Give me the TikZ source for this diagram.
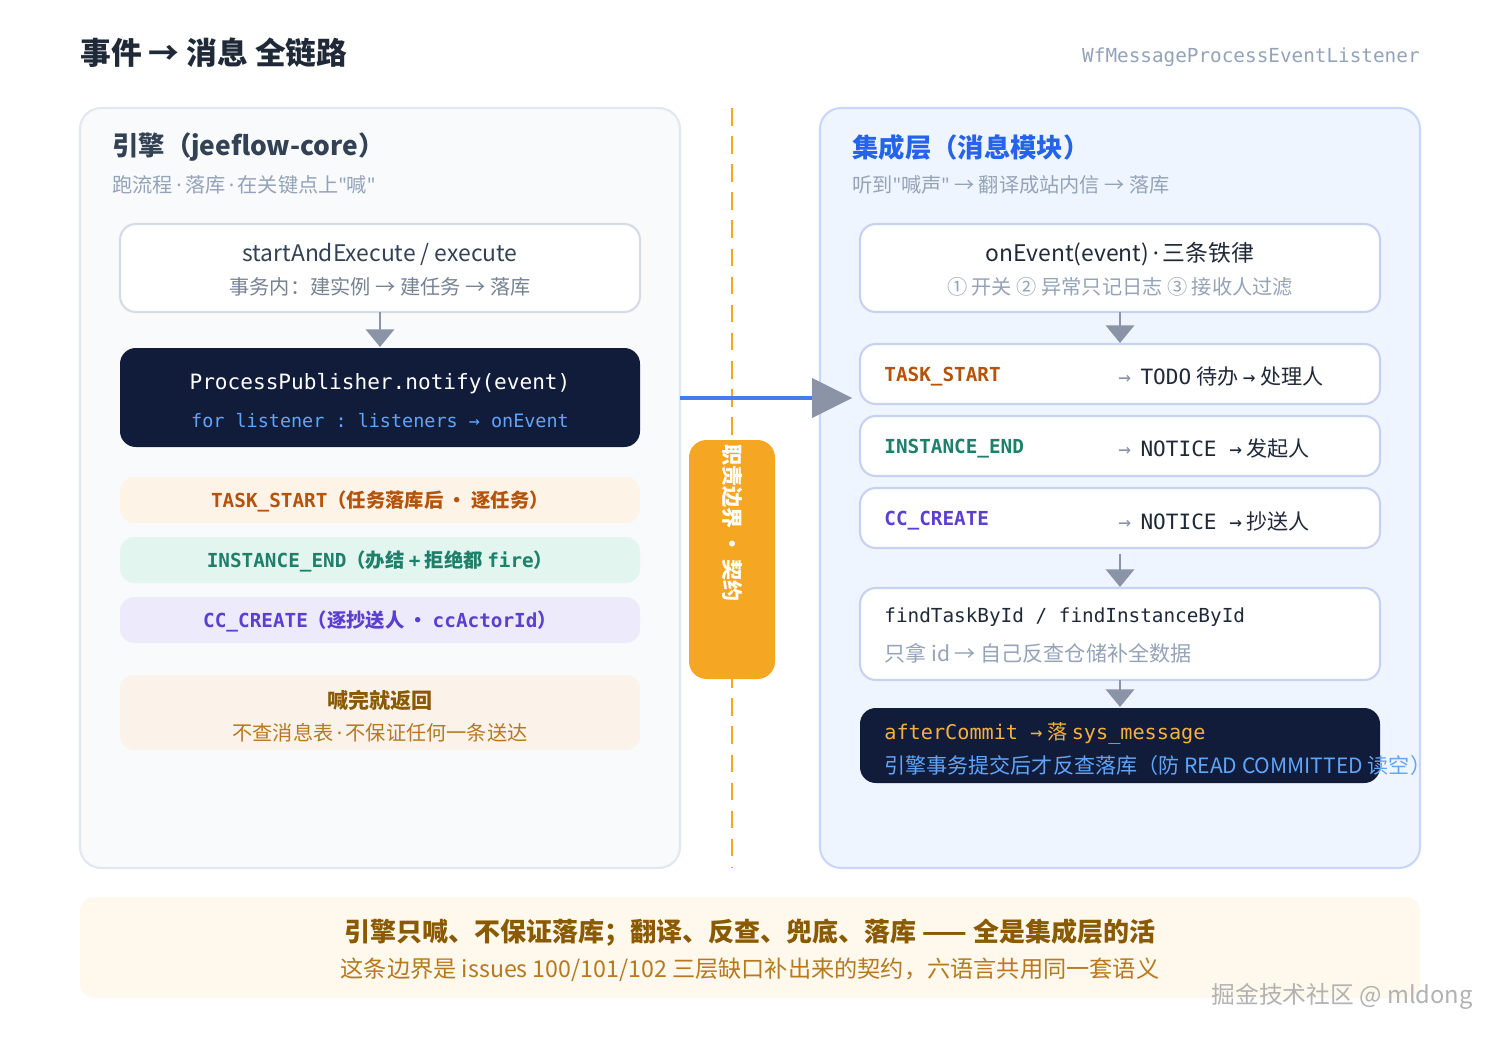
\documentclass[tikz,border=0pt]{standalone}
\usepackage{fontspec}
\setmainfont{Noto Sans CJK SC}
\setmonofont{DejaVu Sans Mono}
\newfontfamily\latin{Noto Sans}
\usetikzlibrary{positioning}
\usetikzlibrary{arrows.meta}

\newcommand{\qt}{{\latin"}}
\newcommand{\md}{{\latin\,·\,}}

\definecolor{ink}{HTML}{1F2937}
\definecolor{slate}{HTML}{334155}
\definecolor{mute}{HTML}{94A3B8}
\definecolor{navy}{HTML}{111C3A}
\definecolor{sky}{HTML}{60A5FA}
\definecolor{royal}{HTML}{2563EB}
\definecolor{amber}{HTML}{F5A623}
\definecolor{brown}{HTML}{8A5A00}
\definecolor{ochre}{HTML}{B7791F}
\definecolor{taskc}{HTML}{B45309}
\definecolor{instc}{HTML}{1E7F6A}
\definecolor{ccc}{HTML}{5B3FD0}
\definecolor{arrowgray}{HTML}{8A94A6}
\definecolor{lpanel}{HTML}{F8FAFC}
\definecolor{lborder}{HTML}{E2E8F0}
\definecolor{lcard}{HTML}{D5DCE5}
\definecolor{rpanel}{HTML}{EFF5FE}
\definecolor{rborder}{HTML}{C7D7F5}
\definecolor{rcard}{HTML}{C7D2F0}
\definecolor{taskbg}{HTML}{FDF3E7}
\definecolor{instbg}{HTML}{E3F5EF}
\definecolor{ccbg}{HTML}{EDEBFB}
\definecolor{shoutbg}{HTML}{FBF3EA}
\definecolor{footbg}{HTML}{FEF9EC}
\definecolor{gold}{HTML}{F5B041}

\tikzset{
  panel/.style={draw=#1, line width=1.2pt, rounded corners=12pt},
  card/.style={draw=#1, fill=white, line width=1.2pt, rounded corners=9pt},
  band/.style={fill=#1, rounded corners=8pt},
  flow/.style={draw=arrowgray, line width=1.6pt, -{Triangle[width=16pt,length=10pt]}},
  lbl/.style={inner sep=0pt, anchor=west},
  ctr/.style={inner sep=0pt},
}

\begin{document}
\begin{tikzpicture}[x=0.02cm, y=-0.02cm]
\useasboundingbox (0,0) rectangle (1500,1040);
\fill[white] (0,0) rectangle (1500,1040);

% header
\node[lbl, font=\fontsize{17.5}{20}\selectfont\bfseries, text=ink] (title) at (80,53) {事件 → 消息 全链路};
\node[ctr, anchor=east, font=\ttfamily\fontsize{11}{12}\selectfont, text=mute] (cls) at (1420,57) {WfMessageProcessEventListener};

% left panel
\draw[panel=lborder, fill=lpanel] (80,108) rectangle (680,868);
\node[lbl, font=\fontsize{15}{18}\selectfont\bfseries, text=slate] (ltitle) at (112,147) {引擎（jeeflow-core）};
\node[lbl, font=\fontsize{11.5}{13}\selectfont, text=mute] (lsub) at (112,185) {跑流程\md 落库\md 在关键点上\qt 喊\qt};

\draw[card=lcard] (120,224) rectangle (640,312);
\node[ctr, font=\fontsize{13}{15}\selectfont, text=slate] (start) at (380,254) {startAndExecute / execute};
\node[ctr, font=\fontsize{11.5}{13}\selectfont, text=mute!80!black] (startsub) at (380,287) {事务内：建实例 → 建任务 → 落库};

\fill[navy, rounded corners=9pt] (120,348) rectangle (640,447);
\node[ctr, font=\ttfamily\fontsize{12}{14}\selectfont, text=white] (notify) at (380,384) {ProcessPublisher.notify(event)};
\node[ctr, font=\ttfamily\fontsize{10.5}{12}\selectfont, text=sky] (loop) at (380,421) {for listener : listeners → onEvent};

\coordinate (startbot) at (380,312);
\coordinate (notifytop) at (380,347);
\draw[flow] (startbot) -- (notifytop);

\fill[band=taskbg] (120,477) rectangle (640,523);
\node[ctr, font=\fontsize{11}{12}\selectfont\bfseries, text=taskc] (ltask) at (380,501) {\texttt{TASK\_START}（任务落库后 · 逐任务）};
\fill[band=instbg] (120,537) rectangle (640,583);
\node[ctr, font=\fontsize{11}{12}\selectfont\bfseries, text=instc] (linst) at (380,561) {\texttt{INSTANCE\_END}（办结 \texttt{+} 拒绝都 \texttt{fire}）};
\fill[band=ccbg] (120,597) rectangle (640,643);
\node[ctr, font=\fontsize{11}{12}\selectfont\bfseries, text=ccc] (lcc) at (380,621) {\texttt{CC\_CREATE}（逐抄送人 · \texttt{ccActorId}）};

\fill[band=shoutbg] (120,675) rectangle (640,750);
\node[ctr, font=\fontsize{12}{14}\selectfont\bfseries, text=brown] (shout) at (380,700) {喊完就返回};
\node[ctr, font=\fontsize{11.5}{13}\selectfont, text=ochre] (shoutsub) at (380,733) {不查消息表\md 不保证任何一条送达};

% boundary
\draw[amber, line width=1.6pt, dash pattern=on 10pt off 6pt] (732,108) -- (732,868);
\fill[amber, rounded corners=10pt] (689,440) rectangle (775,679);
\node[ctr, rotate=-90, font=\fontsize{12}{14}\selectfont\bfseries, text=white] (duty) at (732,523) {职责边界 · 契约};

% right panel
\draw[panel=rborder, fill=rpanel] (820,108) rectangle (1420,868);
\node[lbl, font=\fontsize{15}{18}\selectfont\bfseries, text=royal] (rtitle) at (852,147) {集成层（消息模块）};
\node[lbl, font=\fontsize{11.5}{13}\selectfont, text=mute] (rsub) at (852,185) {听到\qt 喊声\qt\ → 翻译成站内信 → 落库};

\coordinate (handoff) at (680,398);
\coordinate (recv) at (812,398);
\coordinate (recvtip) at (852,398);
\draw[royal!85, line width=2.2pt] (handoff) -- (recv);
\fill[arrowgray] (812,378) -- (recvtip) -- (812,418) -- cycle;

\draw[card=rcard] (860,224) rectangle (1380,312);
\node[ctr, font=\fontsize{13}{15}\selectfont, text=ink] (onevent) at (1120,254) {onEvent(event)\md 三条铁律};
\node[ctr, font=\fontsize{11.5}{13}\selectfont, text=mute] (rules) at (1120,287) {① 开关 ② 异常只记日志 ③ 接收人过滤};

\draw[card=rcard] (860,344) rectangle (1380,404);
\node[lbl, font=\ttfamily\bfseries\fontsize{11}{12}\selectfont, text=taskc] (rtask) at (884,377) {TASK\_START};
\node[lbl, font=\fontsize{12}{13}\selectfont, text=ink] (rtaskto) at (1118,377) {{\color{arrowgray}\texttt{→}}\ \ \texttt{TODO} 待办 \texttt{→} 处理人};
\draw[card=rcard] (860,416) rectangle (1380,476);
\node[lbl, font=\ttfamily\bfseries\fontsize{11}{12}\selectfont, text=instc] (rinst) at (884,449) {INSTANCE\_END};
\node[lbl, font=\fontsize{12}{13}\selectfont, text=ink] (rinstto) at (1118,449) {{\color{arrowgray}\texttt{→}}\ \ \texttt{NOTICE →} 发起人};
\draw[card=rcard] (860,488) rectangle (1380,548);
\node[lbl, font=\ttfamily\bfseries\fontsize{11}{12}\selectfont, text=ccc] (rcc) at (884,521) {CC\_CREATE};
\node[lbl, font=\fontsize{12}{13}\selectfont, text=ink] (rccto) at (1118,521) {{\color{arrowgray}\texttt{→}}\ \ \texttt{NOTICE →} 抄送人};

\draw[card=rcard] (860,588) rectangle (1380,680);
\node[lbl, font=\ttfamily\fontsize{11}{12}\selectfont, text=ink] (find) at (884,617) {findTaskById / findInstanceById};
\node[lbl, font=\fontsize{12}{13}\selectfont, text=mute] (findsub) at (884,653) {只拿 id → 自己反查仓储补全数据};

\fill[navy, rounded corners=9pt] (860,708) rectangle (1380,783);
\node[lbl, font=\fontsize{11.5}{13}\selectfont, text=gold] (commit) at (884,733) {\texttt{afterCommit →} 落 \texttt{sys\_message}};
\node[lbl, font=\fontsize{12}{13}\selectfont, text=sky] (commitsub) at (884,765) {引擎事务提交后才反查落库（防 READ COMMITTED 读空）};

\coordinate (a1) at (1120,312); \coordinate (b1) at (1120,343);
\coordinate (a2) at (1120,554); \coordinate (b2) at (1120,587);
\coordinate (a3) at (1120,680); \coordinate (b3) at (1120,707);
\foreach \s/\e in {a1/b1,a2/b2,a3/b3}
  \draw[flow] (\s) -- (\e);

% footer
\fill[band=footbg] (80,897) rectangle (1420,998);
\node[ctr, font=\fontsize{14.8}{16}\selectfont\bfseries, text=brown] (moral) at (750,933) {引擎只喊、不保证落库；翻译、反查、兜底、落库 —— 全是集成层的活};
\node[ctr, font=\fontsize{13.2}{14}\selectfont, text=ochre] (moralsub) at (750,970) {这条边界是 issues 100/101/102 三层缺口补出来的契约，六语言共用同一套语义};
\node[ctr, anchor=east, font=\fontsize{13.5}{16}\selectfont, text=black!30] (mark) at (1473,996) {掘金技术社区 @ mldong};
\end{tikzpicture}
\end{document}
